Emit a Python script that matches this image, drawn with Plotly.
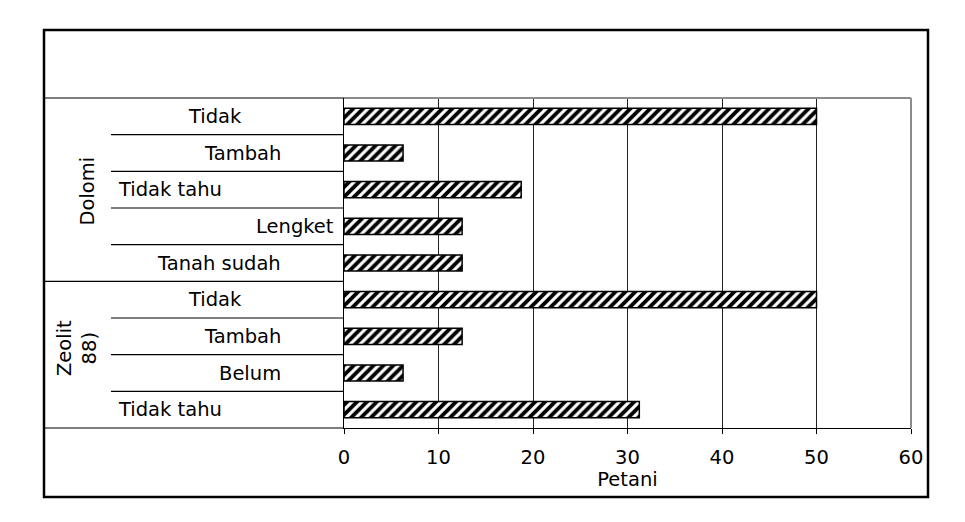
import plotly.graph_objects as go

# ---- data ----
groups = ["Dolomi", "Dolomi", "Dolomi", "Dolomi", "Dolomi",
          "Zeolit<br>88)", "Zeolit<br>88)", "Zeolit<br>88)", "Zeolit<br>88)"]
categories = ["Tidak", "Tambah", "Tidak tahu", "Lengket", "Tanah sudah",
              "Tidak", "Tambah", "Belum", "Tidak tahu"]
values = [50, 6.25, 18.75, 12.5, 12.5, 50, 12.5, 6.25, 31.25]
x_ticks = [0, 10, 20, 30, 40, 50, 60]
x_title = "Petani"

# ---- layout helpers (pixel -> paper) ----
W, H = 965, 522
L, R, T, B = 344, 911, 98, 428
def px(x):
    return (x - L) / (R - L)
def py(y):
    return (B - y) / (B - T)

FONT = "DejaVu Sans"
FS = 19.5

idx = list(range(len(categories)))

fig = go.Figure()
fig.add_trace(go.Bar(
    x=values, y=idx, orientation="h", width=0.44,
    marker=dict(
        color="white",
        line=dict(color="black", width=1.5),
        pattern=dict(shape="/", fgcolor="black", bgcolor="white",
                     size=7, solidity=0.55, fillmode="replace"),
    ),
    hoverinfo="x+y", showlegend=False,
))

# label placements (style only)
label_style = [
    ("center", 215), ("right", 283), ("left", 116), ("right", 336), ("right", 283),
    ("center", 215), ("right", 283), ("right", 283), ("left", 116),
]
annotations = []
for i, (cat, (anchor, xp)) in enumerate(zip(categories, label_style)):
    annotations.append(dict(
        x=px(xp), xref="paper", y=i, yref="y", text=cat, showarrow=False,
        xanchor=anchor, yanchor="middle",
        font=dict(family=FONT, size=FS, color="black"),
    ))

# group labels
group_names = []
group_ranges = []
for i, g in enumerate(groups):
    if not group_names or group_names[-1] != g:
        group_names.append(g)
        group_ranges.append([i, i])
    else:
        group_ranges[-1][1] = i
group_x = [87, 77]
group_dy = [0.05, -0.18]
for g, (a, b), gx, dy in zip(group_names, group_ranges, group_x, group_dy):
    annotations.append(dict(
        x=px(gx), xref="paper", y=(a + b) / 2 + dy, yref="y",
        text=g, showarrow=False, textangle=-90,
        xanchor="center", yanchor="middle",
        font=dict(family=FONT, size=FS, color="black"),
    ))

shapes = []
# outer border
shapes.append(dict(type="rect", xref="paper", yref="paper",
                   x0=px(44), x1=px(928), y0=py(497), y1=py(30),
                   line=dict(color="black", width=2.5)))
# row separators
for k in range(1, len(categories)):
    full = groups[k] != groups[k - 1]
    shapes.append(dict(type="line", xref="paper", yref="y",
                       x0=px(44) if full else px(111), x1=0,
                       y0=k - 0.5, y1=k - 0.5,
                       line=dict(color="black", width=1.2)))
# top line across label area
shapes.append(dict(type="line", xref="paper", yref="paper",
                   x0=px(44), x1=0, y0=1, y1=1,
                   line=dict(color="black", width=1.2)))
# bottom line across label area
shapes.append(dict(type="line", xref="paper", yref="paper",
                   x0=px(44), x1=0, y0=0, y1=0,
                   line=dict(color="black", width=1.2)))
# plot area gray top/right border
shapes.append(dict(type="line", xref="paper", yref="paper",
                   x0=0, x1=1, y0=1, y1=1,
                   line=dict(color="#8c8c8c", width=2)))
shapes.append(dict(type="line", xref="paper", yref="paper",
                   x0=1, x1=1, y0=0, y1=1,
                   line=dict(color="#8c8c8c", width=2)))

fig.update_layout(
    width=W, height=H,
    margin=dict(l=L, r=W - R, t=T, b=H - B, pad=0),
    paper_bgcolor="white", plot_bgcolor="white",
    font=dict(family=FONT, size=FS, color="black"),
    xaxis=dict(
        range=[0, 60], tickvals=x_ticks, ticktext=[str(t) for t in x_ticks],
        showgrid=True, gridcolor="#222222", gridwidth=1,
        showline=True, linecolor="black", linewidth=1.2,
        ticks="outside", ticklen=5, tickcolor="black", tickwidth=1,
        ticklabelstandoff=6,
        tickfont=dict(family=FONT, size=FS, color="black"),
        title=dict(text=x_title, font=dict(family=FONT, size=FS, color="black"), standoff=2),
        zeroline=False, fixedrange=True,
    ),
    yaxis=dict(
        range=[len(categories) - 0.5, -0.5], showticklabels=False,
        showgrid=False, zeroline=False,
        showline=True, linecolor="black", linewidth=1.2,
        ticks="", fixedrange=True,
    ),
    annotations=annotations,
    shapes=shapes,
)

fig.write_html("out.html")
